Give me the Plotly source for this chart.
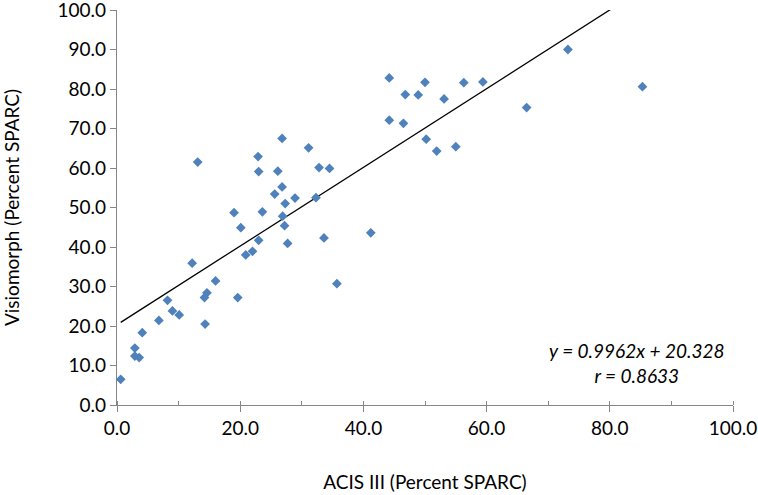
import plotly.graph_objects as go

acis = [0.6, 2.9, 2.9, 3.6, 4.1, 6.8, 8.2, 9.0, 10.1, 12.2, 14.3, 14.2, 14.6, 16.0,
        19.0, 19.6, 20.1, 20.9, 22.0, 23.0, 23.6, 25.6, 26.8, 27.3, 26.9, 27.2, 27.7,
        28.9, 32.3, 33.6, 35.7, 13.1, 22.9, 23.0, 26.8, 26.1, 31.1, 32.8, 34.5,
        41.2, 44.2, 44.2, 46.8, 46.5, 48.9, 50.0, 50.2, 53.1, 51.9, 55.0, 56.3,
        59.4, 66.5, 73.2, 85.3]
visio = [6.5, 14.4, 12.4, 12.0, 18.3, 21.4, 26.5, 23.8, 22.8, 35.9, 20.5, 27.2, 28.4, 31.4,
         48.7, 27.2, 44.9, 38.0, 38.9, 41.7, 48.9, 53.4, 55.2, 51.0, 47.8, 45.4, 40.9,
         52.4, 52.5, 42.3, 30.7, 61.5, 62.9, 59.1, 67.5, 59.2, 65.1, 60.1, 59.9,
         43.6, 82.8, 72.1, 78.6, 71.3, 78.5, 81.7, 67.3, 77.5, 64.3, 65.4, 81.6,
         81.8, 75.3, 90.0, 80.6]
slope = 0.9962
intercept = 20.328
r_value = 0.8633

x_ticks = [0, 20, 40, 60, 80, 100]
y_ticks = [0, 10, 20, 30, 40, 50, 60, 70, 80, 90, 100]

trend_x = [min(acis), max(acis)]
trend_y = [slope * v + intercept for v in trend_x]

font = "Lato, 'Open Sans', sans-serif"
fs = 19
fig = go.Figure()
fig.add_trace(go.Scatter(x=trend_x, y=trend_y, mode="lines",
                         line=dict(color="black", width=1.3), hoverinfo="skip"))
fig.add_trace(go.Scatter(x=acis, y=visio, mode="markers",
                         marker=dict(symbol="diamond", size=7.5, color="#4F81BD")))

fig.add_annotation(x=84.4, y=10.6, xref="x", yref="y",
                   text=f"<i>y = {slope}x + {intercept}<br>r = {r_value}</i>",
                   showarrow=False, align="center",
                   font=dict(family=font, size=fs, color="black"))

axis_common = dict(showgrid=False, zeroline=False, showline=True, linecolor="#868686",
                   linewidth=1.3, ticks="outside", tickcolor="#868686", ticklen=6,
                   automargin=False, ticklabeloverflow="allow",
                   tickformat=".1f", tickfont=dict(family=font, size=fs, color="black"))

fig.update_xaxes(range=[0, 100], tickvals=x_ticks,
                 minor=dict(dtick=10, ticks="inside", ticklen=4, tickcolor="#868686"),
                 title=dict(text="ACIS III (Percent SPARC)", standoff=37,
                            font=dict(family=font, size=fs, color="black")),
                 **axis_common)
fig.update_yaxes(range=[0, 100], tickvals=y_ticks,
                 title=dict(text="Visiomorph (Percent SPARC)", standoff=50,
                            font=dict(family=font, size=fs, color="black")),
                 **axis_common)

fig.update_layout(width=758, height=495, showlegend=False,
                  margin=dict(l=117, r=25, t=10, b=90),
                  plot_bgcolor="white", paper_bgcolor="white")

# remove the default 8px page margin so the figure fills the window exactly
fig.write_html("out.html", config={"displayModeBar": False},
               post_script="document.body.style.margin='0px';")
